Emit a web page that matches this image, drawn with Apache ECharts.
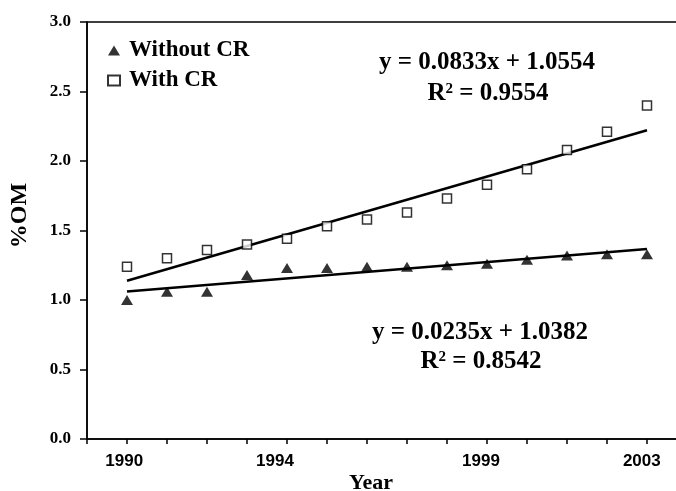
<!DOCTYPE html>
<html>
<head>
<meta charset="utf-8">
<script src="https://cdn.jsdelivr.net/npm/echarts@6/dist/echarts.min.js"></script>
<style>
  html, body { margin: 0; padding: 0; background: #fff; }
  #main { width: 676px; height: 491px; }
</style>
</head>
<body>
<div id="main"></div>
<script>
// data
var years = [1990, 1991, 1992, 1993, 1994, 1995, 1996, 1997, 1998, 1999, 2000, 2001, 2002, 2003];
var withoutCR = [1.00, 1.06, 1.06, 1.18, 1.23, 1.23, 1.24, 1.24, 1.25, 1.26, 1.29, 1.32, 1.33, 1.33];
var withCR = [1.24, 1.30, 1.36, 1.40, 1.44, 1.53, 1.58, 1.63, 1.73, 1.83, 1.94, 2.08, 2.21, 2.40];
// trend lines y = a*x + b, x = 1..14
var trendWithout = [0.0235, 1.0382];
var trendWith = [0.0833, 1.0554];
var xLabels = ['1990', '1994', '1999', '2003'];
var xLabelAt = [1989.93, 1993.7, 1998.85, 2002.87];
var yTicks = [0, 0.5, 1, 1.5, 2, 2.5, 3];

function pairs(xs, ys) {
    return xs.map(function (x, i) { return [x, ys[i]]; });
}
function trend(c) {
    var n = years.length;
    return [[years[0], c[0] * 1 + c[1]], [years[n - 1], c[0] * n + c[1]]];
}

var serif = '"Liberation Serif", "Times New Roman", serif';
var sans = '"Liberation Sans", Arial, sans-serif';

var myChart = echarts.init(document.getElementById('main'));
var option = {
    backgroundColor: '#fff',
    animation: false,
    grid: {
        left: 87, top: 22, bottom: 52, right: -11,
        outerBoundsMode: 'none',
        containLabel: false,
        show: true, borderColor: '#000', borderWidth: 1.5
    },
    legend: {
        orient: 'vertical',
        left: 102, top: 34,
        itemWidth: 12, itemHeight: 10,
        itemGap: 7,
        textStyle: {
            fontFamily: serif, fontWeight: 'bold', fontSize: 23,
            color: '#000', lineHeight: 23, padding: [0, 0, 0, 4]
        },
        data: [
            { name: 'Without CR', icon: 'triangle' },
            { name: 'With CR', icon: 'rect' }
        ]
    },
    xAxis: {
        type: 'value',
        min: 1989, max: 2004, interval: 1,
        name: 'Year',
        nameLocation: 'middle',
        nameGap: 33,
        nameMoveOverlap: false,
        nameTextStyle: {
            fontFamily: serif, fontWeight: 'bold', fontSize: 22, color: '#000',
            padding: [0, 32, 0, 0]
        },
        axisLine: { lineStyle: { color: '#000', width: 1.5 } },
        axisTick: { inside: false, length: 5, lineStyle: { color: '#000', width: 1.5 } },
        splitLine: { show: false },
        axisLabel: {
            customValues: xLabelAt,
            margin: 14,
            fontFamily: sans, fontWeight: 'bold', fontSize: 17, color: '#000',
            formatter: function (v) {
                var best = 0;
                for (var i = 1; i < xLabelAt.length; i++) {
                    if (Math.abs(xLabelAt[i] - v) < Math.abs(xLabelAt[best] - v)) best = i;
                }
                return xLabels[best];
            }
        }
    },
    yAxis: {
        type: 'value',
        min: yTicks[0], max: yTicks[yTicks.length - 1], interval: 0.5,
        name: '%OM',
        nameLocation: 'middle',
        nameRotate: 90,
        nameGap: 55,
        nameMoveOverlap: false,
        nameTextStyle: {
            fontFamily: serif, fontWeight: 'bold', fontSize: 24, color: '#000',
            padding: [0, 0, 0, 30]
        },
        axisLine: { show: true, lineStyle: { color: '#000', width: 1.5 } },
        axisTick: { show: true, inside: false, length: 7, lineStyle: { color: '#000', width: 1.5 } },
        splitLine: { show: false },
        axisLabel: {
            margin: 16,
            fontFamily: serif, fontWeight: 'bold', fontSize: 17, color: '#000',
            formatter: function (v) { return v.toFixed(1); }
        }
    },
    graphic: [
        {
            type: 'text', x: 487, y: 63,
            style: {
                text: 'y = 0.0833x + 1.0554',
                font: 'bold 25px ' + serif, fill: '#000',
                align: 'center', verticalAlign: 'middle'
            }
        },
        {
            type: 'text', x: 488, y: 94,
            style: {
                text: '{r|R}{s|2}{r| = 0.9554}',
                align: 'center', verticalAlign: 'middle',
                rich: {
                    r: { font: 'bold 25px ' + serif, fill: '#000', verticalAlign: 'bottom' },
                    s: { font: 'bold 15px ' + serif, fill: '#000', verticalAlign: 'top' }
                }
            }
        },
        {
            type: 'text', x: 480, y: 333,
            style: {
                text: 'y = 0.0235x + 1.0382',
                font: 'bold 25px ' + serif, fill: '#000',
                align: 'center', verticalAlign: 'middle'
            }
        },
        {
            type: 'text', x: 481, y: 362,
            style: {
                text: '{r|R}{s|2}{r| = 0.8542}',
                align: 'center', verticalAlign: 'middle',
                rich: {
                    r: { font: 'bold 25px ' + serif, fill: '#000', verticalAlign: 'bottom' },
                    s: { font: 'bold 15px ' + serif, fill: '#000', verticalAlign: 'top' }
                }
            }
        }
    ],
    series: [
        {
            name: 'trendWithout', type: 'line', data: trend(trendWithout),
            symbol: 'none', z: 2,
            lineStyle: { color: '#000', width: 2.5 }
        },
        {
            name: 'trendWith', type: 'line', data: trend(trendWith),
            symbol: 'none', z: 2,
            lineStyle: { color: '#000', width: 2.5 }
        },
        {
            name: 'Without CR', type: 'scatter', data: pairs(years, withoutCR),
            symbol: 'triangle', symbolSize: [12, 10], z: 3,
            itemStyle: { color: '#000' }
        },
        {
            name: 'With CR', type: 'scatter', data: pairs(years, withCR),
            symbol: 'rect', symbolSize: 9, z: 3,
            itemStyle: { color: '#fff', borderColor: '#000', borderWidth: 1.5 }
        }
    ]
};
myChart.setOption(option);
</script>
</body>
</html>
